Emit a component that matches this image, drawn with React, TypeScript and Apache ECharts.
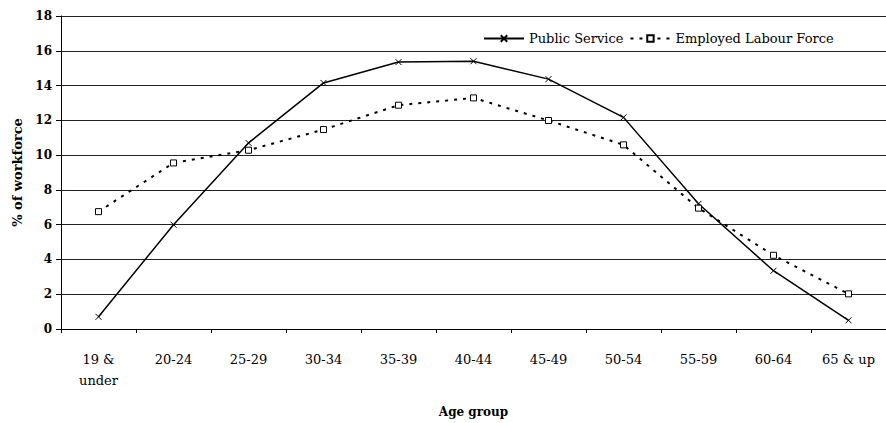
import React, { useEffect, useRef } from "react";
import * as echarts from "echarts";

const categories = ["19 &\nunder", "20-24", "25-29", "30-34", "35-39", "40-44", "45-49", "50-54", "55-59", "60-64", "65 & up"];
const publicService = [0.7, 6.0, 10.7, 14.15, 15.35, 15.4, 14.37, 12.17, 7.2, 3.35, 0.5];
const employedLabourForce = [6.75, 9.55, 10.28, 11.47, 12.87, 13.29, 11.99, 10.59, 6.95, 4.24, 2.02];
const yTicks = { min: 0, max: 18, interval: 2 };

const FONT = "DejaVu Serif";

export default function App() {
  const ref = useRef<HTMLDivElement>(null);
  useEffect(() => {
    if (!ref.current) return;
    const chart = echarts.init(ref.current, null, { renderer: "svg" });
    chart.setOption({
      animation: false,
      backgroundColor: "#fff",
      textStyle: { fontFamily: FONT, color: "#000" },
      grid: { left: 61, top: 16, right: -11, bottom: 94, containLabel: false },
      legend: {
        left: 478,
        top: 27,
        itemWidth: 40,
        itemHeight: 8,
        itemGap: 6,
        textStyle: { fontFamily: FONT, fontSize: 13, color: "#000" },
        data: ["Public Service", "Employed Labour Force"],
      },
      xAxis: {
        type: "category",
        data: categories,
        boundaryGap: true,
        name: "Age group",
        nameLocation: "middle",
        nameGap: 77,
        nameTextStyle: { fontFamily: FONT, fontWeight: "bold", fontSize: 12, color: "#000" },
        axisLine: { lineStyle: { color: "#000", width: 1 } },
        axisTick: { show: true, length: 4, lineStyle: { color: "#000" } },
        axisLabel: { fontFamily: FONT, fontSize: 13, color: "#000", margin: 20, lineHeight: 21, interval: 0 },
      },
      yAxis: {
        type: "value",
        min: yTicks.min,
        max: yTicks.max,
        interval: yTicks.interval,
        name: "% of workforce",
        nameLocation: "middle",
        nameGap: 37,
        nameTextStyle: { fontFamily: FONT, fontWeight: "bold", fontSize: 13, color: "#000" },
        axisLine: { show: true, lineStyle: { color: "#000", width: 1 } },
        axisTick: { show: true, length: 5, lineStyle: { color: "#000" } },
        axisLabel: { fontFamily: FONT, fontSize: 12, fontWeight: "bold", color: "#000", margin: 9 },
        splitLine: { show: true, lineStyle: { color: "#222", width: 1 } },
      },
      series: [
        {
          name: "Public Service",
          type: "line",
          data: publicService,
          symbol: "path://M0,0L10,10M10,0L0,10",
          symbolSize: 6,
          itemStyle: { color: "#000", borderColor: "#000", borderWidth: 1 },
          lineStyle: { color: "#000", width: 1.5, type: "solid" },
        },
        {
          name: "Employed Labour Force",
          type: "line",
          data: employedLabourForce,
          symbol: "rect",
          symbolSize: 6,
          itemStyle: { color: "#fff", borderColor: "#000", borderWidth: 1 },
          lineStyle: { color: "#000", width: 2, type: [3, 6] },
        },
      ],
    });
    return () => chart.dispose();
  }, []);
  return (
    <div
      ref={ref}
      style={{ position: "fixed", left: 0, top: 0, width: 886, height: 423 }}
    />
  );
}
